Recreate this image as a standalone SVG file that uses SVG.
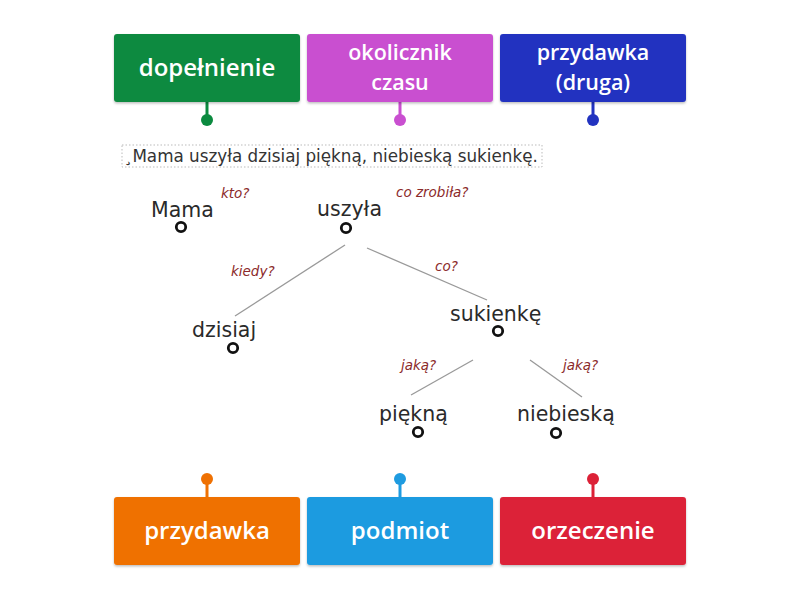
<svg xmlns="http://www.w3.org/2000/svg" width="800" height="600" viewBox="0 0 800 600">
<defs>
<filter id="sh" x="-10%" y="-10%" width="120%" height="130%">
<feDropShadow dx="0" dy="1.5" stdDeviation="1.2" flood-color="#000" flood-opacity="0.25"/>
</filter>
</defs>
<style>
.box{filter:url(#sh)}
.lbl{font-family:"Open Sans","Noto Sans",sans-serif;font-size:24px;font-weight:600;fill:#fff;text-anchor:middle}
.lbl2{font-size:21.5px}
.word{font-family:"DejaVu Sans",sans-serif;font-size:20.5px;fill:#2a2a2a}
.q{font-family:"DejaVu Sans",sans-serif;font-size:13.5px;font-style:italic;fill:#8b2a2a}
.node{fill:#fff;stroke:#111;stroke-width:2.8}
.edge{stroke:#999;stroke-width:1.3;fill:none}
.sent{font-family:"DejaVu Sans",sans-serif;font-size:16.8px;fill:#333}
</style>
<rect width="800" height="600" fill="#fff"/>

<g id="sentence">
<rect x="122" y="145" width="420" height="22" fill="none" stroke="#bbb" stroke-width="1" stroke-dasharray="1.5,2"/>
<text class="sent" x="124" y="162">¸Mama uszyła dzisiaj piękną, niebieską sukienkę.</text>
</g>

<g id="connectors">
<line class="edge" x1="345" y1="245" x2="235" y2="316"/>
<line class="edge" x1="367" y1="248" x2="487" y2="300"/>
<line class="edge" x1="473" y1="360" x2="411" y2="395"/>
<line class="edge" x1="530" y1="360" x2="582" y2="397"/>
</g>

<g id="q-labels">
<text class="q" x="221" y="198">kto?</text>
<text class="q" x="396" y="197">co zrobiła?</text>
<text class="q" x="231" y="276">kiedy?</text>
<text class="q" x="435" y="271">co?</text>
<text class="q" x="401" y="370">jaką?</text>
<text class="q" x="563" y="370">jaką?</text>
</g>

<g id="w-mama"><text class="word" x="151" y="217">Mama</text><circle class="node" cx="181" cy="227" r="4.7"/></g>
<g id="w-uszyla"><text class="word" x="317" y="216">uszyła</text><circle class="node" cx="346" cy="228" r="4.7"/></g>
<g id="w-dzisiaj"><text class="word" x="192" y="337">dzisiaj</text><circle class="node" cx="233" cy="348" r="4.7"/></g>
<g id="w-sukienke"><text class="word" x="450" y="321">sukienkę</text><circle class="node" cx="498" cy="331" r="4.7"/></g>
<g id="w-piekna"><text class="word" x="379" y="421">piękną</text><circle class="node" cx="418" cy="432" r="4.7"/></g>
<g id="w-niebieska"><text class="word" x="517" y="421">niebieską</text><circle class="node" cx="556" cy="433" r="4.7"/></g>

<g id="b-dopelnienie">
<line x1="207" y1="100" x2="207" y2="118" stroke="#0b8a3f" stroke-width="3"/>
<circle cx="207" cy="120" r="6" fill="#0b8a3f"/>
<rect class="box" x="114" y="34" width="186" height="68" rx="3" fill="#0b8a3f"/>
<text class="lbl" x="207" y="76">dopełnienie</text>
</g>
<g id="b-okolicznik">
<line x1="400" y1="100" x2="400" y2="118" stroke="#c94fd0" stroke-width="3"/>
<circle cx="400" cy="120" r="6" fill="#c94fd0"/>
<rect class="box" x="307" y="34" width="186" height="68" rx="3" fill="#c94fd0"/>
<text class="lbl lbl2" x="400" y="60">okolicznik<tspan x="400" dy="30">czasu</tspan></text>
</g>
<g id="b-przydawka2">
<line x1="593" y1="100" x2="593" y2="118" stroke="#2233c0" stroke-width="3"/>
<circle cx="593" cy="120" r="6" fill="#2233c0"/>
<rect class="box" x="500" y="34" width="186" height="68" rx="3" fill="#2233c0"/>
<text class="lbl lbl2" x="593" y="60">przydawka<tspan x="593" dy="30">(druga)</tspan></text>
</g>

<g id="b-przydawka">
<line x1="207" y1="481" x2="207" y2="499" stroke="#ef7103" stroke-width="3"/>
<circle cx="207" cy="479" r="6" fill="#ef7103"/>
<rect class="box" x="114" y="497" width="186" height="68" rx="3" fill="#ef7103"/>
<text class="lbl" x="207" y="539">przydawka</text>
</g>
<g id="b-podmiot">
<line x1="400" y1="481" x2="400" y2="499" stroke="#1e9be0" stroke-width="3"/>
<circle cx="400" cy="479" r="6" fill="#1e9be0"/>
<rect class="box" x="307" y="497" width="186" height="68" rx="3" fill="#1e9be0"/>
<text class="lbl" x="400" y="539">podmiot</text>
</g>
<g id="b-orzeczenie">
<line x1="593" y1="481" x2="593" y2="499" stroke="#dc2137" stroke-width="3"/>
<circle cx="593" cy="479" r="6" fill="#dc2137"/>
<rect class="box" x="500" y="497" width="186" height="68" rx="3" fill="#dc2137"/>
<text class="lbl" x="593" y="539">orzeczenie</text>
</g>
</svg>
